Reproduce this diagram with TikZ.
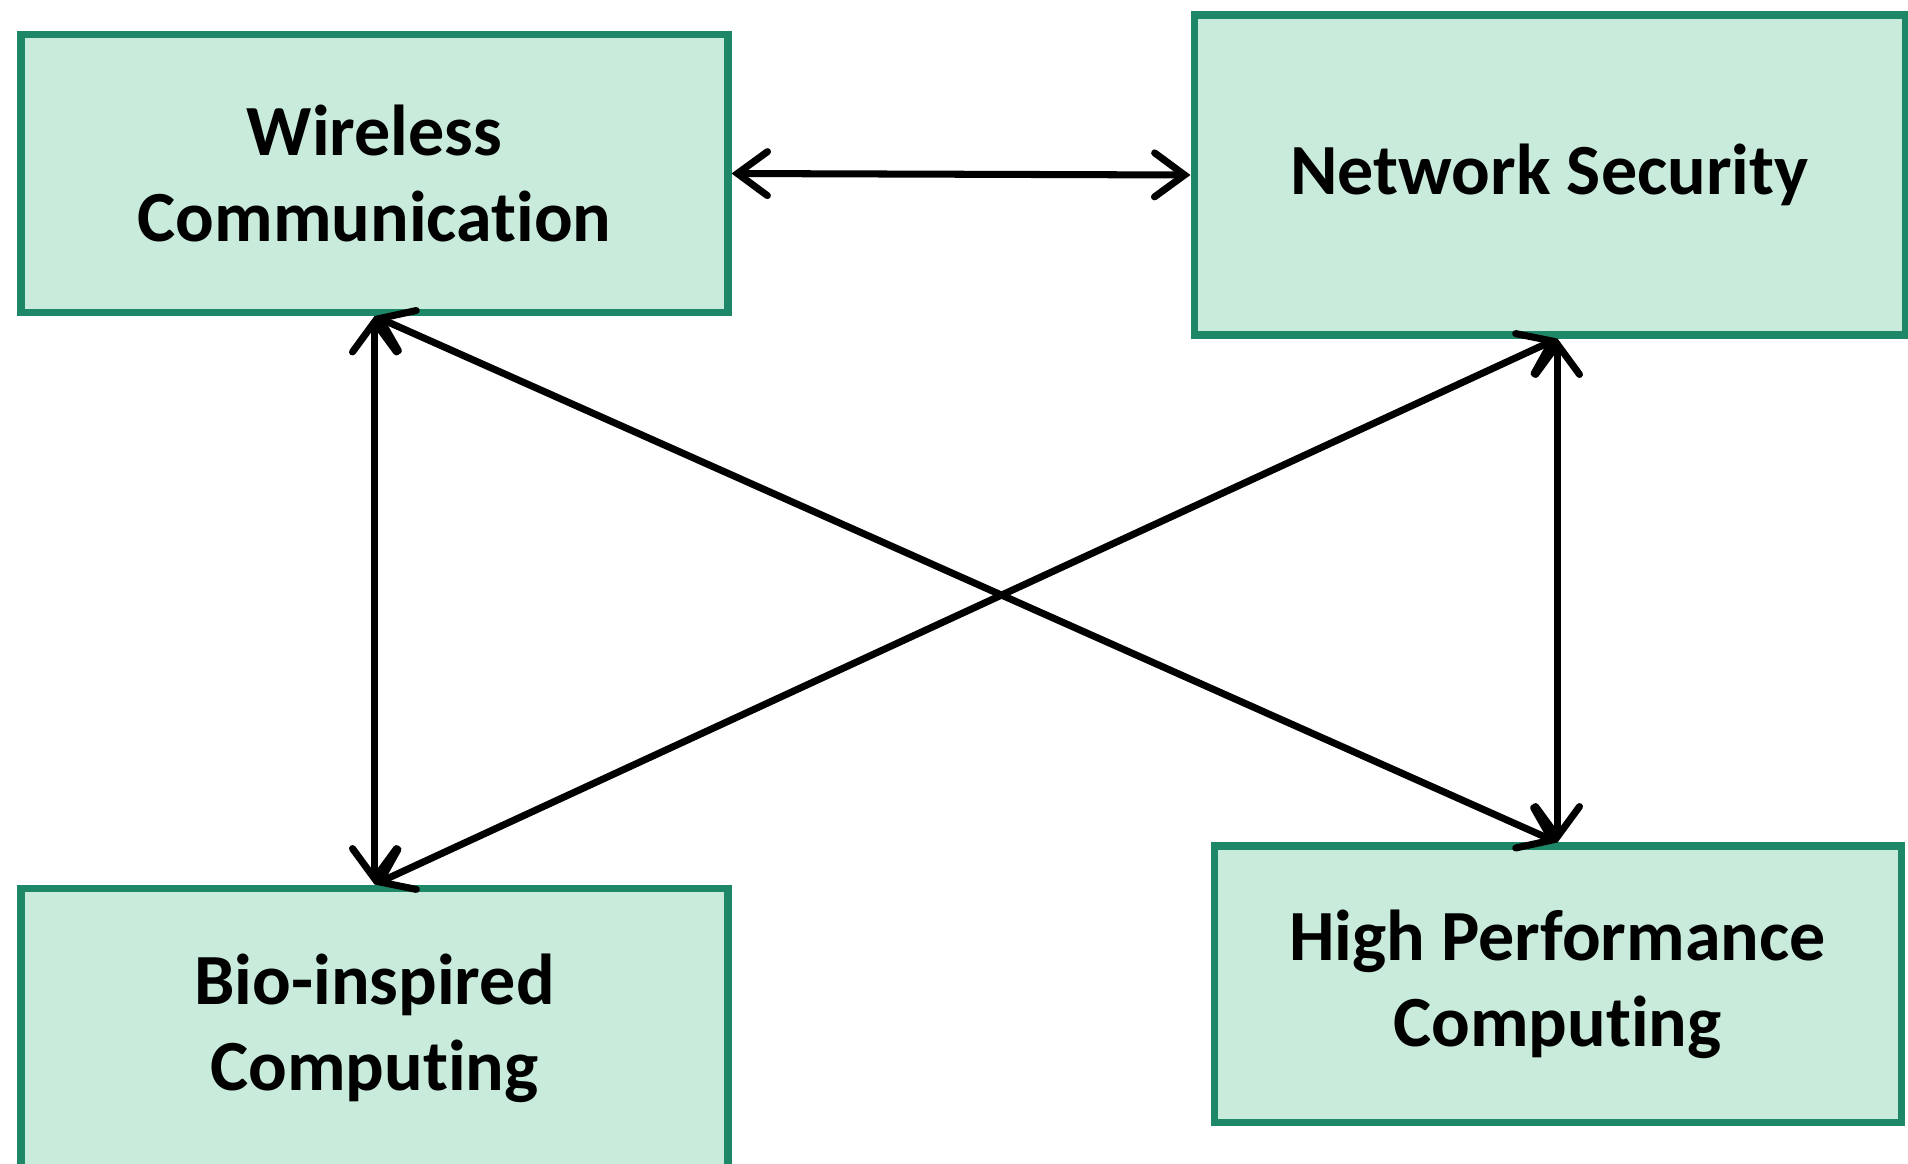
\documentclass[tikz,border=0pt]{standalone}
\usepackage{fontspec}
\setmainfont{Carlito}[Ligatures=NoCommon]
\usetikzlibrary{arrows.meta}
\definecolor{boxfill}{HTML}{C8EBDB}
\definecolor{boxline}{HTML}{1E8768}
\tikzset{
  area/.style={draw=boxline,fill=boxfill,line width=2pt,align=center,inner sep=0pt,
    font=\fontsize{20.5}{24.5}\selectfont\bfseries},
  link/.style={line width=2pt,{Straight Barb[length=3mm,width=4.4mm,line cap=round]}-{Straight Barb[length=3mm,width=4.4mm,line cap=round]}}
}
\begin{document}
\begin{tikzpicture}
  \useasboundingbox[fill=white] (0,0) rectangle (19.08,-11.63);
  \node[area,minimum width=7.07cm,minimum height=2.78cm] (wc) at (3.745,-1.735) {Wireless\\Communication};
  \node[area,minimum width=7.11cm,minimum height=3.20cm] (ns) at (15.495,-1.75) {Network Security};
  \node[area,minimum width=7.07cm,minimum height=2.80cm] (bio) at (3.745,-10.28) {Bio-inspired\\Computing};
  \node[area,minimum width=6.87cm,minimum height=2.76cm] (hpc) at (15.575,-9.84) {High Performance\\Computing};
  \draw[link] (wc.east)--(ns.west);
  \draw[link] (wc.south)--(bio.north);
  \draw[link] (ns.south -| hpc.north)--(hpc.north);
  \draw[link] (wc.south)--(hpc.north);
  \draw[link] (ns.south -| hpc.north)--(bio.north);
\end{tikzpicture}
\end{document}
